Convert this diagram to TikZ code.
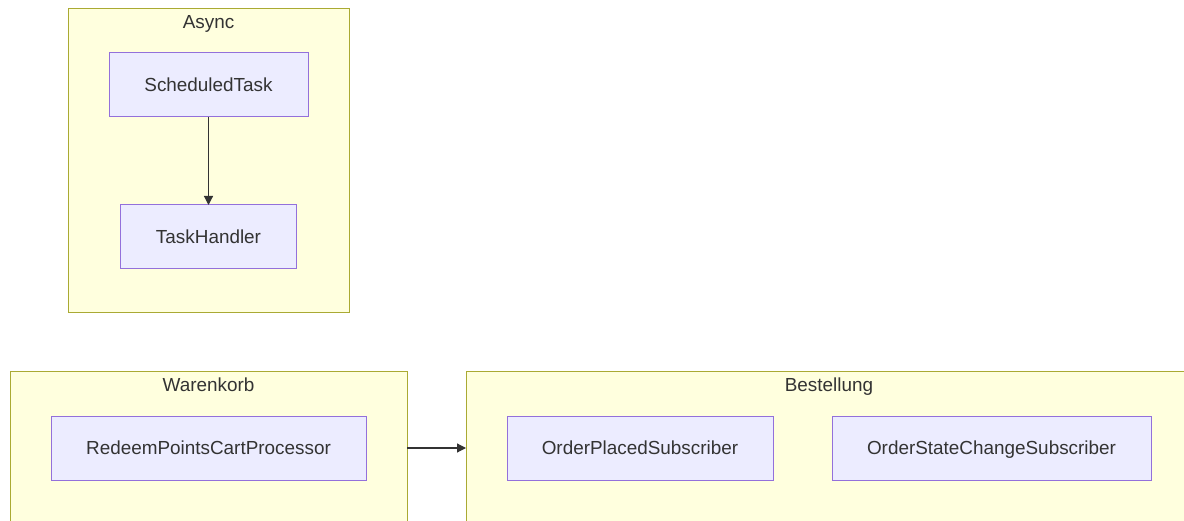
\documentclass[tikz,border=0pt]{standalone}
\usepackage{fontspec}
\setmainfont{Liberation Sans}
\usetikzlibrary{arrows.meta}
\definecolor{clfill}{HTML}{FFFFDE}
\definecolor{cldraw}{HTML}{AAAA33}
\definecolor{ndfill}{HTML}{ECECFF}
\definecolor{nddraw}{HTML}{9370DB}
\definecolor{txt}{HTML}{333333}
\tikzset{
  cluster/.style={draw=cldraw, fill=clfill, line width=1pt, inner sep=0pt, outer sep=0pt, rectangle},
  proc/.style={draw=nddraw, fill=ndfill, line width=1pt, inner sep=0pt, outer sep=0pt, rectangle, text=txt, font=\fontsize{18.9}{22}\selectfont, text height=13.6pt, text depth=0pt},
  ctitle/.style={text=txt, font=\fontsize{18.9}{22}\selectfont, inner sep=0pt, text height=13.6pt, text depth=0pt},
  link/.style={draw=txt, line width=1.2pt, -{Triangle[length=9pt,width=9pt]}}
}
\begin{document}
\begin{tikzpicture}[x=1pt,y=-1pt]
\useasboundingbox (0,0) rectangle (1184,521);
\clip (0,0) rectangle (1184,521);
% clusters
\node[cluster, minimum width=281pt, minimum height=304pt] (async) at (208.5,161) {};
\node[ctitle] (tasync) at (208.5,22) {Async};
\node[cluster, minimum width=397pt, minimum height=152pt] (wk) at (208.5,448) {};
\node[ctitle] (twk) at (208.5,385) {Warenkorb};
\node[cluster, minimum width=726pt, minimum height=152pt] (bs) at (829,448) {};
\node[ctitle] (tbs) at (829,385) {Bestellung};
% nodes
\node[proc, minimum width=199pt, minimum height=64pt] (st) at (208.5,85) {ScheduledTask};
\node[proc, minimum width=176pt, minimum height=64pt] (th) at (208.5,237) {TaskHandler};
\node[proc, minimum width=315pt, minimum height=64pt] (rp) at (208.5,448) {RedeemPointsCartProcessor};
\node[proc, minimum width=266pt, minimum height=64pt] (op) at (640,448) {OrderPlacedSubscriber};
\node[proc, minimum width=319pt, minimum height=64pt] (os) at (991.5,448) {OrderStateChangeSubscriber};
% links
\draw[link] (st) -- (th);
\draw[link] (wk.east) -- (bs.west);
\end{tikzpicture}
\end{document}
